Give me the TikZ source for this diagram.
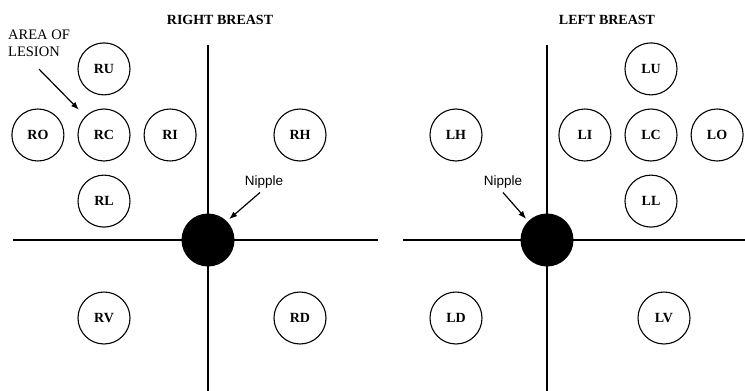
\documentclass[tikz,border=0pt]{standalone}
\usepackage{fontspec}
\setmainfont{Liberation Serif}
\newfontfamily\nipfont{Liberation Sans}
\usepackage{tikz}
\usetikzlibrary{arrows.meta, positioning}
\tikzset{
  zone/.style={circle, draw=black, line width=1.1pt, minimum size=52pt, inner sep=0pt, font=\fontsize{14}{15}\selectfont\bfseries},
  nipple/.style={circle, fill=black, minimum size=53pt, inner sep=0pt},
  axis/.style={line width=1.4pt},
  title/.style={font=\fontsize{14}{16}\selectfont\bfseries},
  note/.style={font=\fontsize{14.5}{17}\selectfont, align=left, inner sep=0pt},
  niplabel/.style={font=\nipfont\fontsize{13.5}{15}\selectfont, inner sep=1pt},
  arrow/.style={-{Latex[length=8pt,width=6pt]}, line width=1.2pt},
}
\begin{document}
\begin{tikzpicture}[x=1pt, y=-1pt, node distance=13pt]
\useasboundingbox (0,0) rectangle (745,391);
% right breast
\node[title] (rtitle) at (220,20) {RIGHT BREAST};
\coordinate (rtop) at (208,45);
\coordinate (rbot) at (208,391);
\coordinate (rleft) at (13,240);
\coordinate (rright) at (378,240);
\draw[axis] (rtop) -- (rbot);
\draw[axis] (rleft) -- (rright);
\node[nipple] (rnip) at (208,240) {};
\node[zone] (rc) at (104,135) {RC};
\node[zone, above=of rc] (ru) {RU};
\node[zone, left=of rc] (ro) {RO};
\node[zone, right=of rc] (ri) {RI};
\node[zone, below=of rc] (rl) {RL};
\node[zone] (rh) at (300,135) {RH};
\node[zone] (rv) at (104,318) {RV};
\node[zone] (rd) at (300,318) {RD};
\node[note, anchor=north west] (lesion) at (8,30) {AREA OF\\LESION};
\node[niplabel] (rniptext) at (264,182) {Nipple};
\draw[arrow, shorten >=3pt] ([xshift=-4pt,yshift=-3pt]rniptext.south) -- (rnip.45);
\draw[arrow, shorten >=9pt] ([yshift=-12pt]lesion.south) -- (rc.135);
% left breast
\node[title] (ltitle) at (607,20) {LEFT BREAST};
\coordinate (ltop) at (547,45);
\coordinate (lbot) at (547,391);
\coordinate (lleft) at (403,240);
\coordinate (lright) at (745,240);
\draw[axis] (ltop) -- (lbot);
\draw[axis] (lleft) -- (lright);
\node[nipple] (lnip) at (547,240) {};
\node[zone] (lc) at (651,135) {LC};
\node[zone, above=of lc] (lu) {LU};
\node[zone, left=of lc] (li) {LI};
\node[zone, right=of lc] (lo) {LO};
\node[zone, below=of lc] (ll) {LL};
\node[zone] (lh) at (456,135) {LH};
\node[zone] (ld) at (456,318) {LD};
\node[zone] (lv) at (664,318) {LV};
\node[niplabel] (lniptext) at (503,182) {Nipple};
\draw[arrow, shorten >=3pt] ([yshift=-3pt]lniptext.south) -- (lnip.135);
\end{tikzpicture}
\end{document}
